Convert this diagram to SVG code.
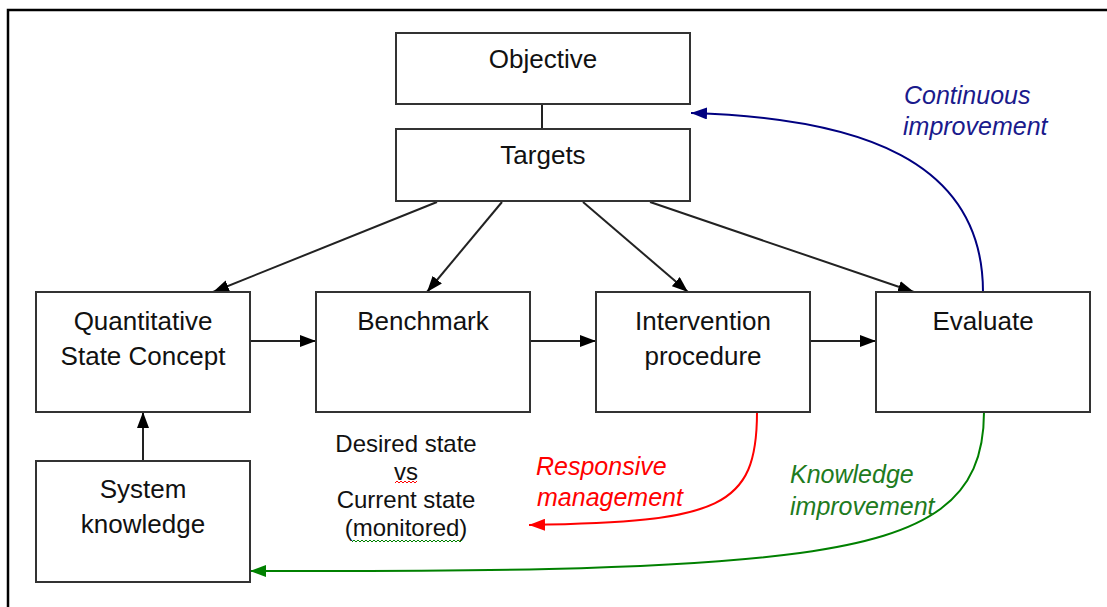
<svg xmlns="http://www.w3.org/2000/svg" width="1107" height="607" viewBox="0 0 1107 607">
<defs>
<style>
.box{fill:#fff;stroke:#333;stroke-width:2}
.t{font-family:"Liberation Sans",Arial,sans-serif;font-size:26px;fill:#111;text-anchor:middle}
.n{font-size:24px}
.lbl{font-family:"Liberation Sans",Arial,sans-serif;font-size:25px;font-style:italic}
.con{fill:none;stroke:#222;stroke-width:2}
</style>
<marker id="ab" markerWidth="16" markerHeight="12" refX="16" refY="6" orient="auto" markerUnits="userSpaceOnUse"><path d="M0,0 L16,6 L0,12 Z" fill="#000"/></marker>
<marker id="au" markerWidth="16" markerHeight="12" refX="16" refY="6" orient="auto" markerUnits="userSpaceOnUse"><path d="M0,0 L16,6 L0,12 Z" fill="#000080"/></marker>
<marker id="ar" markerWidth="16" markerHeight="12" refX="16" refY="6" orient="auto" markerUnits="userSpaceOnUse"><path d="M0,0 L16,6 L0,12 Z" fill="#ff0000"/></marker>
<marker id="ag" markerWidth="16" markerHeight="12" refX="16" refY="6" orient="auto" markerUnits="userSpaceOnUse"><path d="M0,0 L16,6 L0,12 Z" fill="#008000"/></marker>
</defs>
<rect width="1107" height="607" fill="#fff"/>
<path d="M8,607 L8,10 L1107,10" fill="none" stroke="#000" stroke-width="2.5"/>

<g id="connectors">
<line class="con" x1="542" y1="104" x2="542" y2="129"/>
<line class="con" x1="437" y1="202" x2="213" y2="292" marker-end="url(#ab)"/>
<line class="con" x1="502" y1="202" x2="427" y2="292" marker-end="url(#ab)"/>
<line class="con" x1="583" y1="202" x2="688" y2="292" marker-end="url(#ab)"/>
<line class="con" x1="650" y1="202" x2="914" y2="292" marker-end="url(#ab)"/>
<line class="con" x1="250" y1="341" x2="316" y2="341" marker-end="url(#ab)"/>
<line class="con" x1="530" y1="341" x2="596" y2="341" marker-end="url(#ab)"/>
<line class="con" x1="810" y1="341" x2="876" y2="341" marker-end="url(#ab)"/>
<line class="con" x1="143" y1="461" x2="143" y2="412" stroke="#555" marker-end="url(#ab)"/>
<path d="M983,292 C983,160 860,118 691,113" fill="none" stroke="#000080" stroke-width="2" marker-end="url(#au)"/>
<path d="M757,412 C757,508 720,522 529,525" fill="none" stroke="#ff0000" stroke-width="2" marker-end="url(#ar)"/>
<path d="M984,412 C984,500 930,535 800,553 C650,573 400,571 250,571" fill="none" stroke="#008000" stroke-width="2" marker-end="url(#ag)"/>
</g>

<g id="objective"><rect class="box" x="396" y="33" width="294" height="71"/><text class="t" x="543" y="68">Objective</text></g>
<g id="targets"><rect class="box" x="396" y="129" width="294" height="72"/><text class="t" x="543" y="164">Targets</text></g>
<g id="quantitative"><rect class="box" x="36" y="292" width="214" height="120"/><text class="t" x="143" y="330">Quantitative</text><text class="t" x="143" y="365">State Concept</text></g>
<g id="benchmark"><rect class="box" x="316" y="292" width="214" height="120"/><text class="t" x="423" y="330">Benchmark</text></g>
<g id="intervention"><rect class="box" x="596" y="292" width="214" height="120"/><text class="t" x="703" y="330">Intervention</text><text class="t" x="703" y="365">procedure</text></g>
<g id="evaluate"><rect class="box" x="876" y="292" width="214" height="120"/><text class="t" x="983" y="330">Evaluate</text></g>
<g id="system"><rect class="box" x="36" y="461" width="214" height="121"/><text class="t" x="143" y="498">System</text><text class="t" x="143" y="533">knowledge</text></g>

<g id="benchmark-note">
<text class="t n" x="406" y="452">Desired state</text>
<text class="t n" x="406" y="480">vs</text>
<text class="t n" x="406" y="508">Current state</text>
<text class="t n" x="406" y="536">(monitored)</text>
<polyline points="395,483 397,481 399,483 401,481 403,483 405,481 407,483 409,481 411,483 413,481 415,483 417,481" fill="none" stroke="#ff0000" stroke-width="1"/>
<polyline points="352,542 354,540 356,542 358,540 360,542 362,540 364,542 366,540 368,542 370,540 372,542 374,540 376,542 378,540 380,542 382,540 384,542 386,540 388,542 390,540 392,542 394,540 396,542 398,540 400,542 402,540 404,542 406,540 408,542 410,540 412,542 414,540 416,542 418,540 420,542 422,540 424,542 426,540 428,542 430,540 432,542 434,540 436,542 438,540 440,542 442,540 444,542 446,540 448,542 450,540 452,542 454,540 456,542 458,540 460,542 462,540" fill="none" stroke="#008000" stroke-width="1"/>
</g>

<g id="labels">
<text class="lbl" fill="#1a1a8c" x="904" y="104">Continuous</text>
<text class="lbl" fill="#1a1a8c" x="903" y="135">improvement</text>
<text class="lbl" fill="#ff0000" x="536" y="475">Responsive</text>
<text class="lbl" fill="#ff0000" x="537" y="506">management</text>
<text class="lbl" fill="#1e7b1e" x="790" y="483">Knowledge</text>
<text class="lbl" fill="#1e7b1e" x="790" y="515">improvement</text>
</g>
</svg>
